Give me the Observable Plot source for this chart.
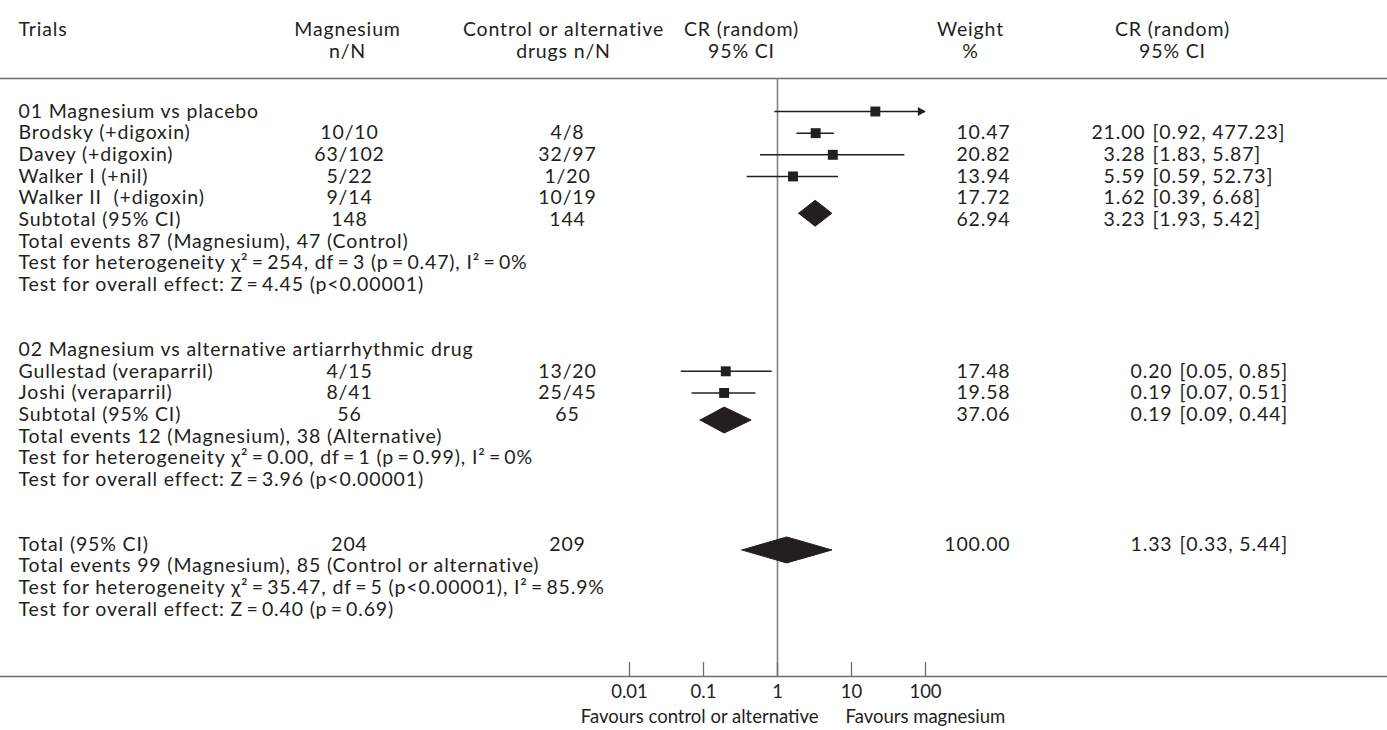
<!DOCTYPE html>
<html><head><meta charset="utf-8">
<script src="https://cdn.jsdelivr.net/npm/d3@7"></script>
<script src="https://cdn.jsdelivr.net/npm/@observablehq/plot@0.6"></script>
<style>html,body{margin:0;padding:0;background:#fff;}</style>
</head><body><div id="chart"></div>
<script>
// ---------- data ----------
const trials = ["Brodsky (+digoxin)", "Davey (+digoxin)", "Walker I (+nil)", "Walker II  (+digoxin)", "Gullestad (veraparril)", "Joshi (veraparril)"];
const trialGroup = [1, 1, 1, 1, 2, 2];
const magnesiumNN = ["10/10", "63/102", "5/22", "9/14", "4/15", "8/41"];
const controlNN = ["4/8", "32/97", "1/20", "10/19", "13/20", "25/45"];
const weightPct = [10.47, 20.82, 13.94, 17.72, 17.48, 19.58];
const ratio = [21.00, 3.28, 5.59, 1.62, 0.20, 0.19];
const ciLow = [0.92, 1.83, 0.59, 0.39, 0.05, 0.07];
const ciHigh = [477.23, 5.87, 52.73, 6.68, 0.85, 0.51];

const summaryLabels = ["Subtotal (95% CI)", "Subtotal (95% CI)", "Total (95% CI)"];
const summaryMagN = ["148", "56", "204"];
const summaryCtrlN = ["144", "65", "209"];
const summaryWeight = [62.94, 37.06, 100.00];
const summaryRatio = [3.23, 0.19, 1.33];
const summaryLow = [1.93, 0.09, 0.33];
const summaryHigh = [5.42, 0.44, 5.44];

const groupTitles = ["01 Magnesium vs placebo", "02 Magnesium vs alternative artiarrhythmic drug"];
const T = "\u2009";
const eventLines = [
  "Total events 87 (Magnesium), 47 (Control)",
  "Total events 12 (Magnesium), 38 (Alternative)",
  "Total events 99 (Magnesium), 85 (Control or alternative)"
];
const heterogeneityLines = [
  `Test for heterogeneity χ²${T}=${T}254, df${T}=${T}3 (p${T}=${T}0.47), I²${T}=${T}0%`,
  `Test for heterogeneity χ²${T}=${T}0.00, df${T}=${T}1 (p${T}=${T}0.99), I²${T}=${T}0%`,
  `Test for heterogeneity χ²${T}=${T}35.47, df${T}=${T}5 (p<0.00001), I²${T}=${T}85.9%`
];
const overallLines = [
  `Test for overall effect: Z${T}=${T}4.45 (p<0.00001)`,
  `Test for overall effect: Z${T}=${T}3.96 (p<0.00001)`,
  `Test for overall effect: Z${T}=${T}0.40 (p${T}=${T}0.69)`
];

const headerTop = ["Trials", "Magnesium", "Control or alternative", "CR (random)", "Weight", "CR (random)"];
const headerBottom = ["", "n/N", "drugs n/N", "95% CI", "%", "95% CI"];

const axisTicks = [0.01, 0.1, 1, 10, 100];
const axisTickLabels = ["0.01", "0.1", "1", "10", "100"];
const favoursLabels = ["Favours control or alternative", "Favours magnesium"];

// ---------- layout (styles / positions) ----------
const W = 1387, H = 730;
const FONT = "Lato, 'Open Sans', sans-serif";
const FS = 19.5;
const LS = "0.85px";
const INK = "#231f20";
const GREY = "#6d6e71";
const ML = 18; // left margin = text start
const headerX = [18, 347, 563, 741, 970, 1172];
const headerAnchor = ["start", "middle", "middle", "middle", "middle", "middle"];

// build table rows
const textRows = [];
const trialRows = [];
const summaryRows = [];
let r = 0;
for (let g = 1; g <= 3; g++) {
  if (g <= 2) {
    textRows.push({row: r, name: groupTitles[g - 1]});
    r++;
    trials.forEach((t, i) => {
      if (trialGroup[i] !== g) return;
      // in the figure the first group's markers sit one row above their text
      trialRows.push({row: r, markerRow: g === 1 ? r - 1 : r, group: g, name: t,
        mag: magnesiumNN[i], ctrl: controlNN[i], weight: weightPct[i],
        est: ratio[i], lo: ciLow[i], hi: ciHigh[i]});
      r++;
    });
  }
  summaryRows.push({row: r, markerRow: g === 1 ? r - 0.3 : r + 0.25, group: g, name: summaryLabels[g - 1],
    mag: summaryMagN[g - 1], ctrl: summaryCtrlN[g - 1], weight: summaryWeight[g - 1],
    est: summaryRatio[g - 1], lo: summaryLow[g - 1], hi: summaryHigh[g - 1]});
  r++;
  textRows.push({row: r, name: eventLines[g - 1]}); r++;
  textRows.push({row: r, name: heterogeneityLines[g - 1]}); r++;
  textRows.push({row: r, name: overallLines[g - 1]}); r++;
  r += 2;
}
const tableRows = [...trialRows, ...summaryRows];
const lastRow = r - 3;

const xMax = axisTicks[axisTicks.length - 1];
const half = 0.6; // diamond half height in rows
const diamonds = summaryRows.flatMap((d, k) => [
  {id: k, x: d.lo, y: d.markerRow},
  {id: k, x: d.est, y: d.markerRow - half},
  {id: k, x: d.hi, y: d.markerRow},
  {id: k, x: d.est, y: d.markerRow + half},
  {id: k, x: d.lo, y: d.markerRow}
]);
const clipped = trialRows.filter(d => d.hi > xMax);

const f2 = d => d.toFixed(2);
const ciText = d => `[${f2(d.lo)}, ${f2(d.hi)}]`;
const txt = (data, opts) => Plot.text(data, {frameAnchor: "left", textAnchor: "start", fontSize: FS, fill: INK, ...opts});

const chart = Plot.plot({
  width: W, height: H,
  marginTop: 78, marginBottom: 54, marginLeft: ML, marginRight: 0,
  style: {fontFamily: FONT, fontSize: FS + "px", color: INK, background: "#fff"},
  x: {type: "log", domain: [axisTicks[0], xMax], range: [629, 925]},
  y: {domain: [0, lastRow], range: [111, 609], axis: null},
  marks: [
    Plot.frame({anchor: "top", stroke: GREY, strokeWidth: 1.6, insetLeft: -ML}),
    Plot.frame({anchor: "bottom", stroke: GREY, strokeWidth: 1.6, insetLeft: -ML}),
    Plot.ruleX([1], {stroke: "#808285", strokeWidth: 1.6}),
    Plot.ruleX(axisTicks, {x: d => d, stroke: GREY, strokeWidth: 1.3, insetTop: 676 - 78 - 14}),
    Plot.axisX({ticks: axisTicks, tickFormat: (d) => axisTickLabels[axisTicks.indexOf(d)], anchor: "bottom",
      tickSize: 0, tickPadding: 8, fontSize: 18.5, fill: INK, label: null}),
    Plot.text(favoursLabels.slice(0, 1), {frameAnchor: "bottom-left", dx: 818 - ML, dy: 46, textAnchor: "end", fontSize: 18.5, fill: INK}),
    Plot.text(favoursLabels.slice(1), {frameAnchor: "bottom-left", dx: 845 - ML, dy: 46, textAnchor: "start", fontSize: 18.5, fill: INK}),
    // confidence intervals and squares
    Plot.ruleY(trialRows, {y: "markerRow", x1: "lo", x2: d => Math.min(d.hi, xMax), stroke: INK, strokeWidth: 1.5}),
    Plot.dot(trialRows, {x: "est", y: "markerRow", symbol: "square", r: 5.6, fill: INK, stroke: "none"}),
    Plot.dot(clipped, {x: () => xMax, y: "markerRow", symbol: "triangle", r: 3.4, rotate: 90, dx: -5, fill: INK, stroke: "none"}),
    Plot.line(diamonds, {x: "x", y: "y", z: "id", fill: INK, stroke: INK, strokeWidth: 1, curve: "linear"}),
    // header
    ...headerTop.map((h, i) => Plot.text([h], {frameAnchor: "top-left", dx: headerX[i] - ML, dy: -56, textAnchor: headerAnchor[i], fontSize: FS, fill: INK})),
    ...headerBottom.map((h, i) => Plot.text([h], {frameAnchor: "top-left", dx: headerX[i] - ML, dy: -34, textAnchor: headerAnchor[i], fontSize: FS, fill: INK})),
    // table text
    txt(textRows, {y: "row", text: "name"}),
    txt(tableRows, {y: "row", text: "name"}),
    txt(tableRows, {y: "row", text: "mag", dx: 349 - ML, textAnchor: "middle"}),
    txt(tableRows, {y: "row", text: "ctrl", dx: 567 - ML, textAnchor: "middle"}),
    txt(tableRows, {y: "row", text: d => f2(d.weight), dx: 1010 - ML, textAnchor: "end"}),
    txt(tableRows.filter(d => d.group === 1), {y: "row", text: d => f2(d.est), dx: 1145 - ML, textAnchor: "end"}),
    txt(tableRows.filter(d => d.group === 1), {y: "row", text: ciText, dx: 1152 - ML}),
    txt(tableRows.filter(d => d.group !== 1), {y: "row", text: d => f2(d.est), dx: 1172 - ML, textAnchor: "end"}),
    txt(tableRows.filter(d => d.group !== 1), {y: "row", text: ciText, dx: 1179 - ML})
  ]
});
// letter spacing for body text (Futura in the original sets wider than Lato)
chart.querySelectorAll("g[aria-label='text']").forEach(g => {
  if (g.getAttribute("font-size") === String(FS)) g.setAttribute("letter-spacing", LS);
});
document.getElementById("chart").appendChild(chart);
</script>
</body></html>
